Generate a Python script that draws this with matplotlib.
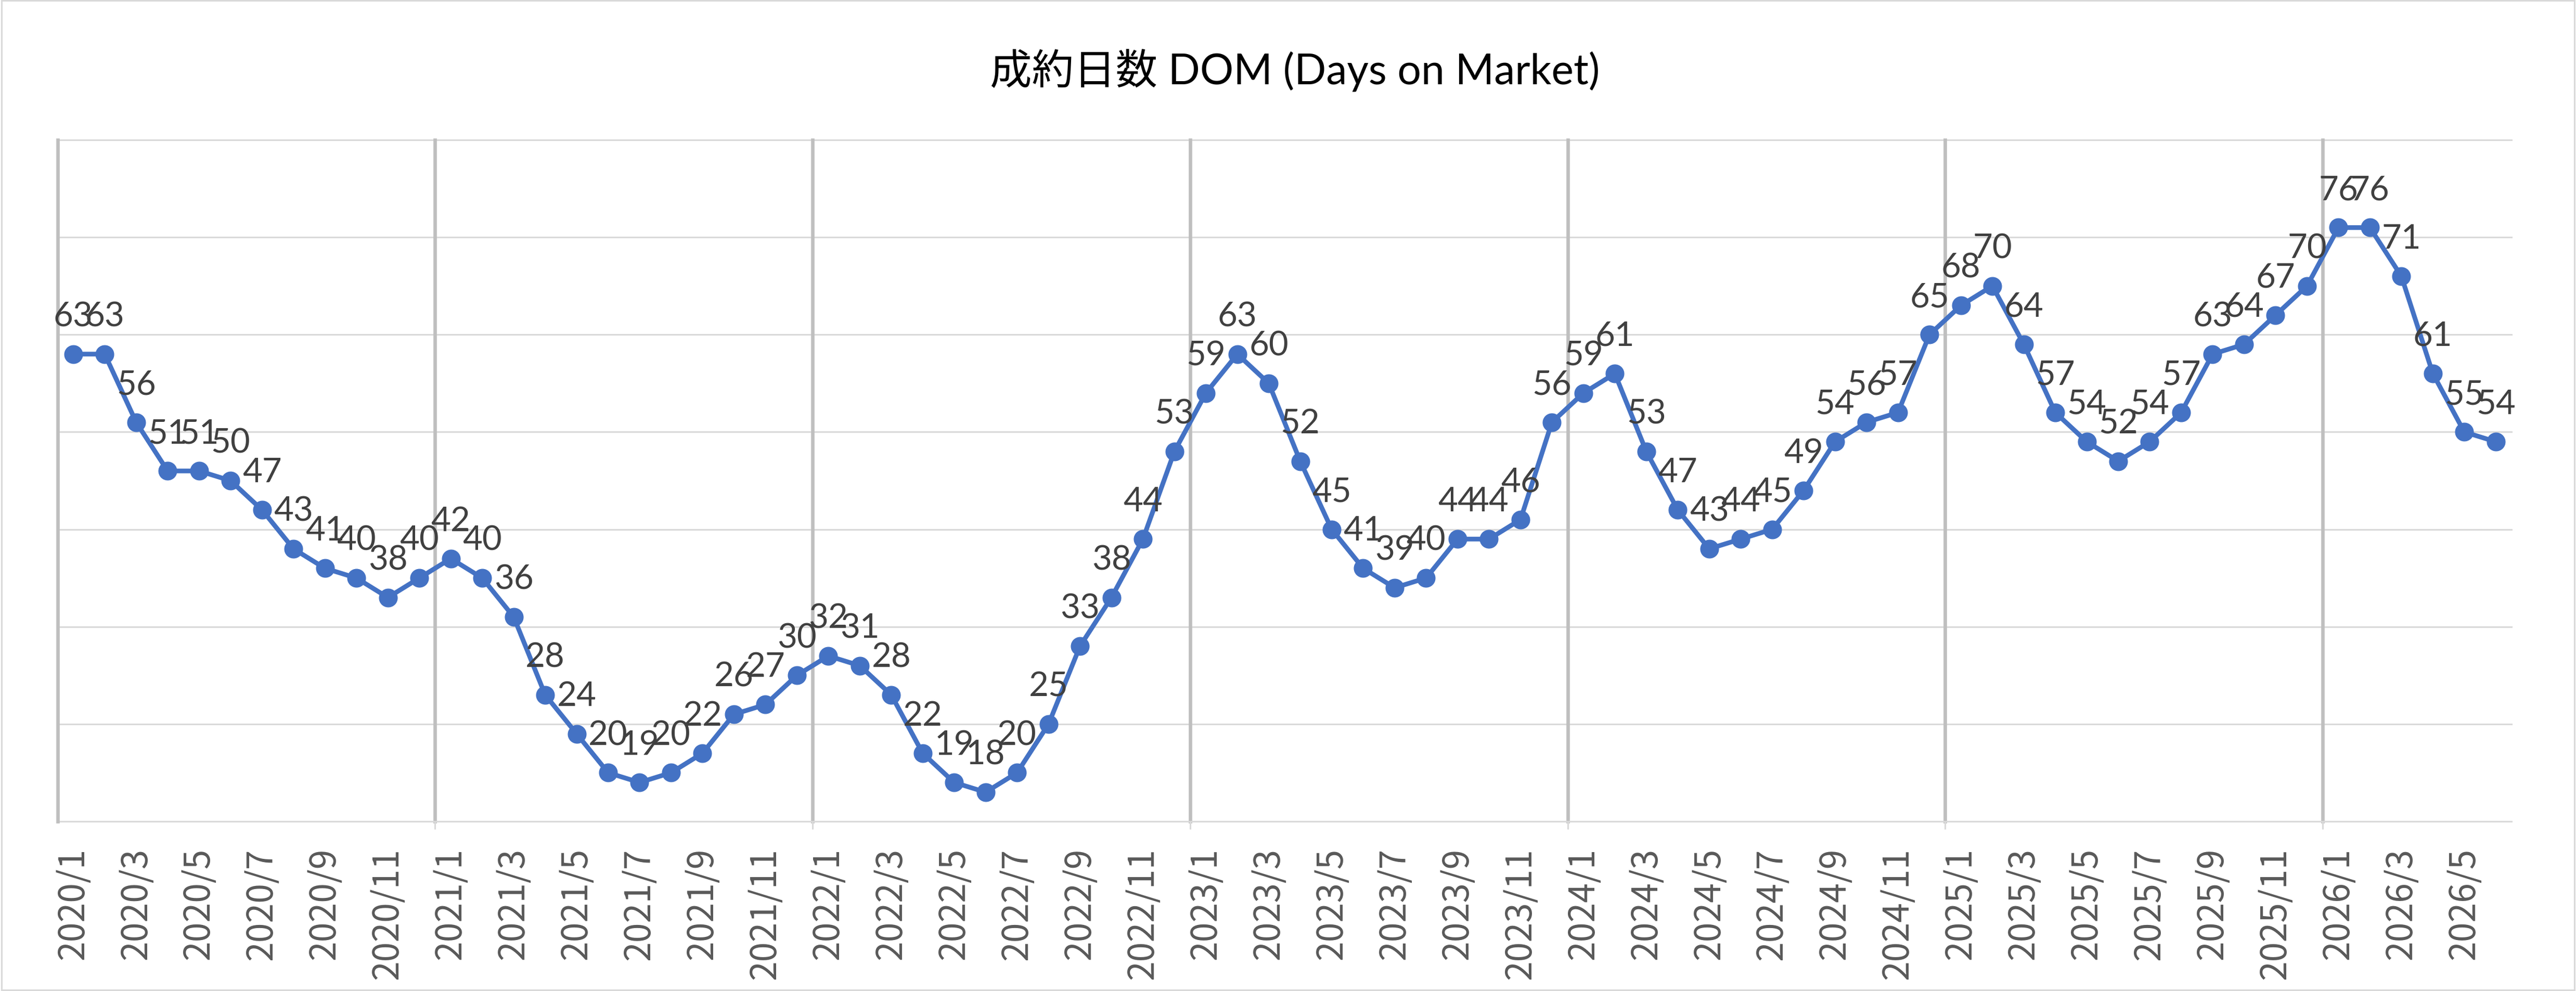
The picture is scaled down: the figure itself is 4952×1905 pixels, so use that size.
import matplotlib
matplotlib.use("Agg")
import matplotlib.pyplot as plt
from matplotlib.patches import Rectangle

# ---- data ----
years = [2020, 2021, 2022, 2023, 2024, 2025, 2026]
months_in_year = [12, 12, 12, 12, 12, 12, 6]
categories = [f"{y}/{m}" for y, n in zip(years, months_in_year) for m in range(1, n + 1)]

dom_2020 = [63, 63, 56, 51, 51, 50, 47, 43, 41, 40, 38, 40]
dom_2021 = [42, 40, 36, 28, 24, 20, 19, 20, 22, 26, 27, 30]
dom_2022 = [32, 31, 28, 22, 19, 18, 20, 25, 33, 38, 44, 53]
dom_2023 = [59, 63, 60, 52, 45, 41, 39, 40, 44, 44, 46, 56]
dom_2024 = [59, 61, 53, 47, 43, 44, 45, 49, 54, 56, 57, 65]
dom_2025 = [68, 70, 64, 57, 54, 52, 54, 57, 63, 64, 67, 70]
dom_2026 = [76, 76, 71, 61, 55, 54]
dom = dom_2020 + dom_2021 + dom_2022 + dom_2023 + dom_2024 + dom_2025 + dom_2026

title = "成約日数 DOM (Days on Market)"
y_min, y_max, y_step = 15, 85, 10

# ---- figure ----
W, H = 4952, 1906
fig = plt.figure(figsize=(W / 100, H / 100), dpi=100)
fig.patch.set_facecolor("white")

left, right, top, bottom = 110.6, 4828, 270, 1580
ax = fig.add_axes([left / W, 1 - bottom / H, (right - left) / W, (bottom - top) / H])

x = list(range(len(categories)))
ax.set_xlim(-0.5, len(categories) - 0.5)
ax.set_ylim(y_min, y_max)

# horizontal gridlines
for yv in range(y_min + y_step, y_max + 1, y_step):
    ax.axhline(yv, color="#D9D9D9", lw=2.2, zorder=0.5, clip_on=False)

# vertical year separators
pos = 0
for n in months_in_year[:-1]:
    pos += n
    ax.axvline(pos - 0.5, color="#BFBFBF", lw=4.8, zorder=0.6, clip_on=False)

for s in ["top", "right"]:
    ax.spines[s].set_visible(False)
ax.spines["left"].set_color("#BFBFBF")
ax.spines["left"].set_linewidth(4.8)
ax.spines["bottom"].set_color("#D9D9D9")
ax.spines["bottom"].set_linewidth(2.2)
ax.spines["bottom"].set_zorder(0.7)

ax.set_yticks([])

# x tick labels every 2 months
ax.set_xticks(x[::2])
ax.set_xticklabels(categories[::2], rotation=90, fontsize=49,
                   family=["Noto Sans CJK JP", "DejaVu Sans"], color="#595959")
ax.tick_params(axis="x", which="major", length=0, pad=36)

# year boundary tick marks
year_bounds = []
pos = 0
for n in months_in_year[:-1]:
    pos += n
    year_bounds.append(pos - 0.5)
ax.set_xticks(year_bounds, minor=True)
ax.tick_params(axis="x", which="minor", length=11, width=2.2, color="#D9D9D9", direction="out")

# line
ax.plot(x, dom, color="#4472C4", lw=6.5, marker="o", markersize=25,
        markerfacecolor="#4472C4", markeredgecolor="#4472C4", zorder=3, clip_on=False)

# data labels
for xi, v in zip(x, dom):
    ax.annotate(str(v), (xi, v), xytext=(0, 39), textcoords="offset points",
                ha="center", va="baseline", fontsize=47, color="#404040",
                family=["Lato", "DejaVu Sans"], annotation_clip=False, zorder=4)

# title
fig.text(0.5026, 1 - 162 / H, title, ha="center", va="baseline", fontsize=58,
         color="#000000", family=["Lato", "Noto Sans CJK JP", "DejaVu Sans"])

# chart border
fig.patches.append(Rectangle((0.0006, 0.0012), 0.9988, 0.9976, transform=fig.transFigure,
                             fill=False, edgecolor="#D9D9D9", lw=2.2))

fig.savefig("out.png", dpi=100, facecolor="white")
